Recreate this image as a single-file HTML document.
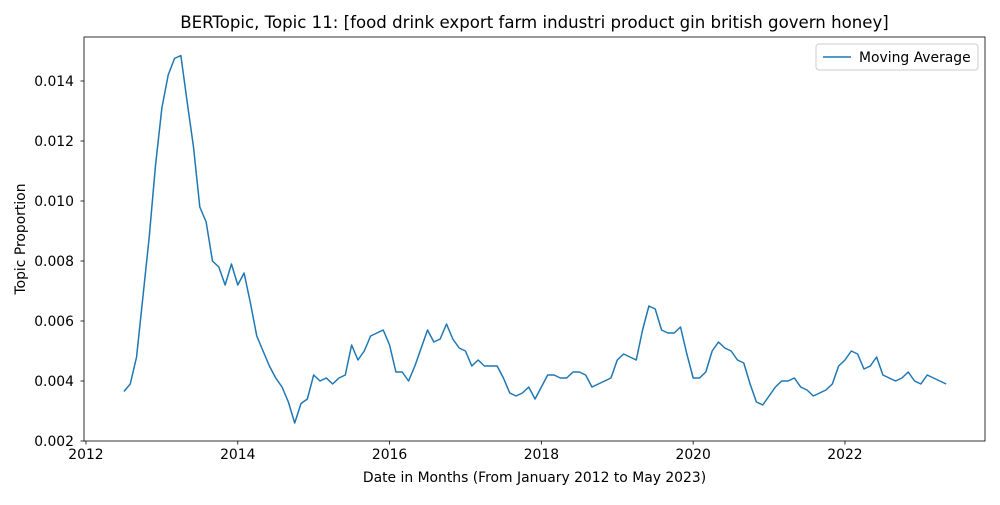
<!DOCTYPE html>
<html><head><meta charset="utf-8"><style>
body{margin:0;background:#fff;font-family:"Liberation Sans","DejaVu Sans",sans-serif;}
svg text{font-family:"DejaVu Sans","Liberation Sans",sans-serif;}
</style></head><body>
<svg id="c" width="1000" height="500" xmlns="http://www.w3.org/2000/svg"></svg>
<script>
const startYear = 2012, startMonth = 6; // July 2012 (0-based month)
const values = [0.00365,0.0039,0.0048,0.0068,0.0088,0.0112,
0.0131,0.0142,0.01475,0.01485,0.0133,0.0118,0.0098,0.0093,0.0080,0.0078,0.0072,0.0079,
0.0072,0.0076,0.0066,0.0055,0.0050,0.0045,0.0041,0.0038,0.0033,0.0026,0.00325,0.0034,
0.0042,0.0040,0.0041,0.0039,0.0041,0.0042,0.0052,0.0047,0.0050,0.0055,0.0056,0.0057,
0.0052,0.0043,0.0043,0.0040,0.0045,0.0051,0.0057,0.0053,0.0054,0.0059,0.0054,0.0051,
0.0050,0.0045,0.0047,0.0045,0.0045,0.0045,0.0041,0.0036,0.0035,0.0036,0.0038,0.0034,
0.0038,0.0042,0.0042,0.0041,0.0041,0.0043,0.0043,0.0042,0.0038,0.0039,0.0040,0.0041,
0.0047,0.0049,0.0048,0.0047,0.0057,0.0065,0.0064,0.0057,0.0056,0.0056,0.0058,0.0049,
0.0041,0.0041,0.0043,0.0050,0.0053,0.0051,0.0050,0.0047,0.0046,0.0039,0.0033,0.0032,
0.0035,0.0038,0.0040,0.0040,0.0041,0.0038,0.0037,0.0035,0.0036,0.0037,0.0039,0.0045,
0.0047,0.0050,0.0049,0.0044,0.0045,0.0048,0.0042,0.0041,0.0040,0.0041,0.0043,0.0040,
0.0039,0.0042,0.0041,0.0040,0.0039];
const xTicks = [2012,2014,2016,2018,2020,2022];
const yTicks = [0.002,0.004,0.006,0.008,0.010,0.012,0.014];

const L=84,R=985,T=37,B=441;
const xMin=2011.974, xMax=2011.974+(R-L)/75.9;
const yMin=0.002, yMax=0.002+(B-T)/30000;
const X=v=>L+(v-xMin)/(xMax-xMin)*(R-L);
const Y=v=>B-(v-yMin)/(yMax-yMin)*(B-T);
const svg=document.getElementById('c');
const NS='http://www.w3.org/2000/svg';
function mk(tag,attrs,txt){const e=document.createElementNS(NS,tag);for(const k in attrs)e.setAttribute(k,attrs[k]);if(txt!==undefined)e.textContent=txt;svg.appendChild(e);return e;}

const pts=values.map((v,i)=>X(startYear+(startMonth+i)/12).toFixed(2)+','+Y(v).toFixed(2)).join(' ');
const line=mk('polyline',{points:pts,fill:'none',stroke:'#1f77b4','stroke-width':1.5,'stroke-linejoin':'round'});



const frame=mk('rect',{x:L,y:T,width:R-L,height:B-T,fill:'none',stroke:'#000','stroke-width':0.8});



xTicks.forEach(t=>{const x=X(t);
mk('line',{x1:x,x2:x,y1:B,y2:B+3.5,stroke:'#000','stroke-width':0.8});
const tx=mk('text',{x:x,y:B+18,'text-anchor':'middle','font-size':13.9},String(t));

});
yTicks.forEach(t=>{const y=Y(t);
mk('line',{x1:L-3.5,x2:L,y1:y,y2:y,stroke:'#000','stroke-width':0.8});
const ty=mk('text',{x:L-10,y:y+5,'text-anchor':'end','font-size':13.9},t.toFixed(3));

});

const title=mk('text',{x:(L+R)/2,y:28,'text-anchor':'middle','font-size':16.6},'BERTopic, Topic 11: [food drink export farm industri product gin british govern honey]');


const xl=mk('text',{x:(L+R)/2,y:482,'text-anchor':'middle','font-size':13.9},'Date in Months (From January 2012 to May 2023)');


const yl=mk('text',{x:0,y:0,'text-anchor':'middle','font-size':13.9,transform:'translate(25,'+((T+B)/2)+') rotate(-90)'},'Topic Proportion');



const lg=mk('rect',{x:816,y:44,width:162,height:26,rx:3,fill:'#fff',stroke:'#ccc','stroke-width':1});


mk('line',{x1:823,x2:851,y1:57,y2:57,stroke:'#1f77b4','stroke-width':1.5});
const le=mk('text',{x:859,y:62,'font-size':13.9},'Moving Average');


</script>
</body></html>
